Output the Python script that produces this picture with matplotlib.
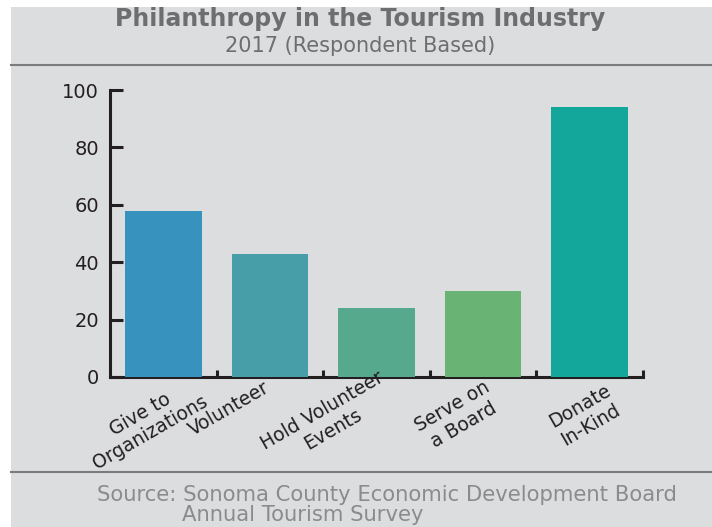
import matplotlib
matplotlib.use("Agg")
import matplotlib.pyplot as plt
from matplotlib.patches import Rectangle
from matplotlib.lines import Line2D
from matplotlib.transforms import blended_transform_factory

# Survey results (share of respondents, %)
categories = ["Give to\nOrganizations", "Volunteer", "Hold Volunteer\nEvents",
              "Serve on\na Board", "Donate\nIn-Kind"]
values = [58, 43, 24, 30, 94]
y_ticks = [0, 20, 40, 60, 80, 100]

# Styling
bar_colors = ["#3892be", "#479ea8", "#57a98e", "#69b474", "#13a69b"]
panel_color = "#dcdddf"
ink = "#231f20"
font = "DejaVu Sans"

# Label placement: horizontal shift (in categories) and vertical centre (figure fraction)
label_dx = [-0.17, -0.385, -0.46, -0.235, -0.04]
label_y = [0.196, 0.224, 0.203, 0.211, 0.211]

W, H = 712, 527
fig = plt.figure(figsize=(W / 100, H / 100), dpi=100)
fig.patch.set_facecolor("white")

# Grey panel behind everything
fig.patches.append(Rectangle((11 / W, 0), 1 - 11 / W, (H - 7) / H,
                             transform=fig.transFigure, facecolor=panel_color,
                             edgecolor="none", zorder=-5))
for yy in (65, 472):
    fig.lines.append(Line2D([11 / W, 1], [1 - yy / H, 1 - yy / H],
                            transform=fig.transFigure, color="#7b7c7e", lw=1.5, zorder=-4))

fig.text(0.5063, 1 - 19 / H, "Philanthropy in the Tourism Industry", ha="center",
         va="center", fontsize=17, fontweight="bold", color="#6d6e70", family=font)
fig.text(0.5056, 1 - 46 / H, "2017 (Respondent Based)", ha="center", va="center",
         fontsize=15, color="#6d6e70", family=font)
fig.text(97 / W, 1 - 495 / H, "Source: Sonoma County Economic Development Board",
         ha="left", va="center", fontsize=15.2, color="#8a8b8d", family=font)
fig.text(182 / W, 1 - 515 / H, "Annual Tourism Survey",
         ha="left", va="center", fontsize=15.2, color="#8a8b8d", family=font)

ax = fig.add_axes([110 / W, 1 - 377 / H, (643 - 110) / W, (377 - 90) / H])
ax.set_facecolor("none")
ax.set_zorder(2)

x = list(range(len(values)))
ax.bar(x, values, width=0.72, color=bar_colors, zorder=3)

ax.set_xlim(-0.5, len(values) - 0.5)
ax.set_ylim(0, 100)
ax.set_yticks(y_ticks)
ax.set_yticklabels([str(t) for t in y_ticks], fontsize=14, color=ink, family=font)
ax.set_xticks([i + 0.5 for i in x])
ax.set_xticklabels([])

for side in ("top", "right"):
    ax.spines[side].set_visible(False)
for side in ("left", "bottom"):
    ax.spines[side].set_color(ink)
    ax.spines[side].set_linewidth(2.2)
    ax.spines[side].set_zorder(2)

ax.tick_params(axis="y", direction="in", length=9, width=2.2, color=ink, pad=8)
ax.tick_params(axis="x", direction="in", length=5, width=2.2, color=ink)

trans = blended_transform_factory(ax.transData, fig.transFigure)
for i, lab in enumerate(categories):
    ax.text(i + label_dx[i], label_y[i], lab, transform=trans, rotation=30,
            ha="center", va="center", multialignment="center", fontsize=13.5,
            color=ink, family=font, linespacing=1.15, clip_on=False)

fig.savefig("out.png", dpi=100, facecolor=fig.get_facecolor())
